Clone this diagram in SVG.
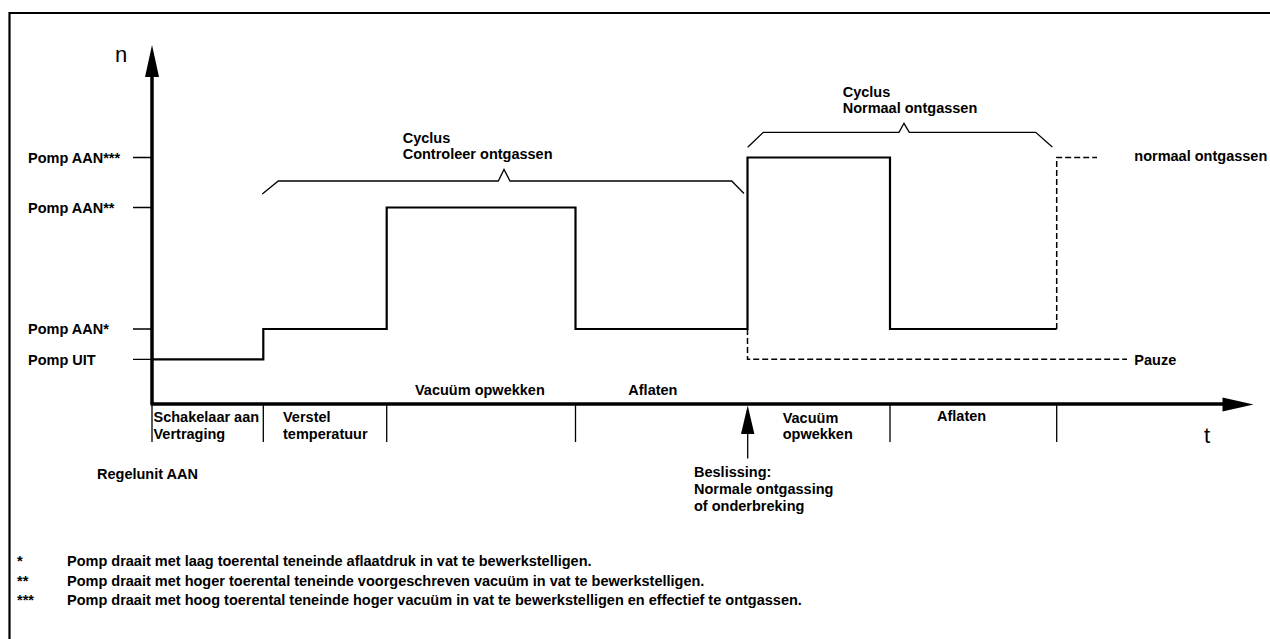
<svg xmlns="http://www.w3.org/2000/svg" width="1270" height="639" viewBox="0 0 1270 639">
<style>
text{font-family:"Liberation Sans",Arial,Helvetica,sans-serif;fill:#000}
.b{font-weight:bold;font-size:14.5px}
.ax{font-size:22px}
.thin{stroke:#000;stroke-width:1.3;fill:none}
.wave{stroke:#000;stroke-width:2.2;fill:none;stroke-linejoin:miter}
.dash{stroke:#000;stroke-width:1.5;fill:none;stroke-dasharray:6 3}
.axis{stroke:#000;stroke-width:3.5;fill:none}
</style>
<rect x="0" y="0" width="1270" height="639" fill="#fff"/>
<g id="frame">
<path d="M9.5,639 V13 H1270" stroke="#000" stroke-width="2.2" fill="none"/>
</g>
<g id="axes">
<path class="axis" d="M152,404 V76"/>
<polygon points="152,45 145,77 159,77"/>
<path class="axis" d="M150.5,404 H1224"/>
<polygon points="1253.5,404.5 1222.5,397.5 1222.5,411.5"/>
<text class="ax" x="115" y="62">n</text>
<text class="ax" x="1204" y="443">t</text>
</g>
<g id="y-levels">
<path class="thin" d="M133,157.5 H152 M133,207.5 H152 M133,329 H152 M133,359.3 H152"/>
<text class="b" x="28" y="162.7">Pomp AAN***</text>
<text class="b" x="28" y="212.7">Pomp AAN**</text>
<text class="b" x="28" y="334.3">Pomp AAN*</text>
<text class="b" x="28" y="364.6">Pomp UIT</text>
</g>
<g id="connectors">
<path class="wave" d="M152,359.3 H263.3 V329 H386.7 V207.5 H575.5 V329 H747.5 V157.5 H890 V329 H1056.7"/>
<path class="dash" d="M1056.7,329 V157.5 H1097"/>
<path class="dash" d="M747.5,329 V359.3 H1127"/>
<path class="thin" d="M152,404 V442 M263.3,404 V442 M386.7,404 V442 M575.5,404 V442 M890,404 V442 M1056.7,404 V442"/>
<path class="thin" d="M262.3,194 L278.3,181 H498.3 L504,169.5 L510,181 H731.7 L744,193.5"/>
<path class="thin" d="M747.7,147.3 L763.3,132.3 H899 L904,123.3 L909.3,132.3 H1035.7 L1052.3,147"/>
<path class="thin" d="M747.7,433 V458.5"/>
<polygon points="747.7,405.5 741,434 754.4,434"/>
</g>
<g id="cycle-control">
<text class="b" x="402.7" y="142.7">Cyclus</text>
<text class="b" x="402.7" y="159.3">Controleer ontgassen</text>
</g>
<g id="cycle-normal">
<text class="b" x="842.7" y="96.7">Cyclus</text>
<text class="b" x="842.7" y="113.3">Normaal ontgassen</text>
</g>
<g id="label-normal">
<text class="b" x="1134.3" y="161">normaal ontgassen</text>
</g>
<g id="label-pauze">
<text class="b" x="1134.3" y="365">Pauze</text>
</g>
<g id="phase-labels">
<text class="b" x="415" y="395">Vacuüm opwekken</text>
<text class="b" x="628.3" y="395">Aflaten</text>
<text class="b" x="153.5" y="422">Schakelaar aan</text>
<text class="b" x="153.5" y="438.5">Vertraging</text>
<text class="b" x="283" y="422">Verstel</text>
<text class="b" x="283" y="438.5">temperatuur</text>
<text class="b" x="782.7" y="422.7">Vacuüm</text>
<text class="b" x="782.7" y="439.3">opwekken</text>
<text class="b" x="937" y="421">Aflaten</text>
</g>
<g id="regelunit">
<text class="b" x="97" y="479">Regelunit AAN</text>
</g>
<g id="beslissing">
<text class="b" x="694" y="477">Beslissing:</text>
<text class="b" x="694" y="494">Normale ontgassing</text>
<text class="b" x="694" y="511">of onderbreking</text>
</g>
<g id="footnotes">
<text class="b" x="17" y="566">*</text>
<text class="b" x="67" y="566">Pomp draait met laag toerental teneinde aflaatdruk in vat te bewerkstelligen.</text>
<text class="b" x="17" y="585.5">**</text>
<text class="b" x="67" y="585.5">Pomp draait met hoger toerental teneinde voorgeschreven vacuüm in vat te bewerkstelligen.</text>
<text class="b" x="17" y="605">***</text>
<text class="b" x="67" y="605">Pomp draait met hoog toerental teneinde hoger vacuüm in vat te bewerkstelligen en effectief te ontgassen.</text>
</g>
</svg>
